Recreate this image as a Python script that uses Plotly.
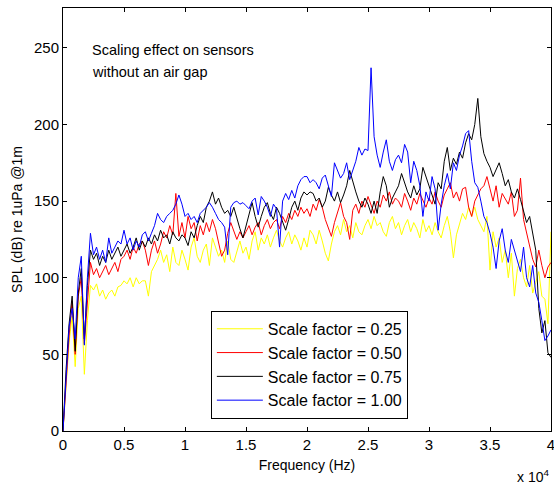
import plotly.graph_objects as go

freq_step_hz = 250
freq = [i * freq_step_hz for i in range(161)]

spl_025 = [
    0, 30, 58, 75, 42, 80, 88, 37, 72, 95,
    92, 96, 88, 92, 86, 90, 92, 88, 94, 95,
    98, 96, 100, 94, 100, 96, 98, 98, 88, 104,
    108, 112, 118, 110, 115, 104, 120, 110, 108, 118,
    112, 105, 120, 126, 114, 110, 118, 122, 108, 126,
    120, 114, 118, 110, 124, 112, 110, 118, 124, 116,
    120, 112, 124, 130, 118, 126, 122, 128, 120, 126,
    131, 124, 120, 126, 130, 122, 128, 124, 118, 126,
    120, 131, 128, 122, 131, 124, 116, 111, 122, 130,
    134, 128, 138, 130, 134, 126, 136, 130, 128, 134,
    138, 132, 140, 134, 136, 130, 127, 136, 140, 132,
    136, 128, 134, 138, 130, 136, 132, 126, 138, 130,
    134, 128, 136, 130, 126, 134, 140, 130, 113, 128,
    136, 142, 138, 146, 140, 146, 138, 134, 130, 140,
    105, 130, 120, 126, 110, 118, 100, 116, 88, 106,
    112, 100, 94, 108, 90, 97, 104, 88, 86, 70,
    130,
]

spl_050 = [
    0, 35, 62, 85, 50, 88, 100, 57, 87, 110,
    102, 106, 100, 104, 108, 102, 106, 110, 104, 112,
    114, 118, 112, 120, 116, 122, 124, 118, 108, 118,
    124, 116, 122, 130, 126, 134, 128, 155, 127, 136,
    126, 140, 132, 136, 124, 134, 128, 136, 130, 138,
    132, 124, 114, 118, 129, 136, 130, 125, 130, 126,
    130, 134, 128, 133, 136, 128, 134, 138, 132, 136,
    138, 132, 140, 136, 142, 138, 144, 140, 146, 142,
    145, 140, 148, 144, 151, 146, 138, 132, 127, 136,
    142, 149, 140, 136, 125, 144, 148, 142, 150, 146,
    153, 148, 142, 150, 146, 154, 150, 156, 148, 152,
    150, 146, 155, 150, 144, 152, 148, 155, 150, 146,
    152, 148, 156, 150, 146, 154, 158, 162, 152, 156,
    150, 158, 159, 146, 140, 150, 154, 158, 160, 166,
    158, 150, 160, 146, 155, 151, 148, 156, 140, 144,
    165, 138, 130, 122, 112, 107, 118, 108, 100, 107,
    110,
]

spl_075 = [
    0, 40, 70, 88, 52, 90, 106, 60, 95, 118,
    112, 116, 108, 114, 110, 118, 112, 116, 120, 114,
    118, 122, 116, 120, 126, 118, 124, 120, 126, 122,
    128, 124, 131, 126, 128, 122, 130, 126, 124, 128,
    126, 121, 130, 126, 134, 140, 136, 146, 150, 156,
    148, 152, 146, 142, 144, 140, 146, 138, 132, 126,
    134, 142, 149, 140, 133, 140, 146, 149, 142, 138,
    146, 142, 136, 131, 138, 146, 150, 144, 152, 156,
    154, 156, 155, 150, 152, 146, 150, 159, 154, 150,
    156, 149, 154, 160, 170, 162, 156, 150, 146, 152,
    148, 142, 150, 142, 156, 166, 160, 146, 152, 156,
    160, 168, 162, 156, 152, 160, 154, 158, 172, 166,
    160, 153, 148, 162, 158, 176, 185, 170, 178, 174,
    182, 178, 188, 194, 190, 200, 217, 192, 181, 176,
    172, 166, 170, 175, 168, 160, 164, 156, 152, 158,
    151, 144, 136, 140, 128, 118, 80, 64, 72, 51,
    48,
]

spl_100 = [
    0, 35, 68, 80, 60, 100, 114, 56, 100, 129,
    115, 120, 112, 118, 110, 126, 116, 120, 124, 122,
    131, 122, 126, 118, 124, 120, 128, 130, 124, 129,
    134, 142, 138, 136, 140, 142, 144, 148, 154, 148,
    140, 142, 138, 140, 136, 142, 144, 146, 149, 146,
    142, 138, 136, 133, 115, 146, 149, 150, 148, 149,
    147, 145, 150, 152, 141, 153, 150, 146, 140, 148,
    145, 120, 150, 155, 151, 157, 152, 160, 164, 166,
    166, 162, 164, 162, 158, 165, 167, 160, 153, 175,
    170, 165, 168, 175, 164, 170, 176, 185, 180, 184,
    183, 237, 192, 180, 172, 182, 190, 176, 170, 177,
    180, 175, 187, 182, 162, 176, 170, 160, 140, 156,
    150, 166, 158, 131, 148, 160, 168, 158, 175, 170,
    180, 186, 194, 196, 176, 162, 159, 150, 140, 136,
    129, 120, 106, 124, 132, 118, 110, 125, 118, 112,
    104, 120, 100, 94, 108, 90, 84, 72, 59, 62,
    66,
]

series_names = ["Scale factor = 0.25", "Scale factor = 0.50",
                "Scale factor = 0.75", "Scale factor = 1.00"]
series_values = [spl_025, spl_050, spl_075, spl_100]
series_colors = ["#ffff00", "#ff0000", "#000000", "#0000ff"]

x_tick_vals = [0, 5000, 10000, 15000, 20000, 25000, 30000, 35000, 40000]
x_tick_text = ["0", "0.5", "1", "1.5", "2", "2.5", "3", "3.5", "4"]
y_tick_vals = [0, 50, 100, 150, 200, 250]

font_family = "Arial, Liberation Sans, sans-serif"

fig = go.Figure()
for name, vals, col in zip(series_names, series_values, series_colors):
    fig.add_trace(go.Scatter(x=freq, y=vals, mode="lines", name=name,
                             line=dict(color=col, width=1)))

axis_common = dict(
    showgrid=False, zeroline=False, showline=True, linecolor="black",
    linewidth=1, mirror="ticks", ticks="inside", ticklen=4,
    tickcolor="black", ticklabeloverflow="allow", automargin=False,
    tickfont=dict(family=font_family, size=15, color="black"),
)

fig.update_layout(
    width=554, height=487,
    margin=dict(l=63, r=3, t=8, b=56),
    paper_bgcolor="white", plot_bgcolor="white",
    font=dict(family=font_family, color="black"),
    xaxis=dict(range=[0, 40000], tickvals=x_tick_vals, ticktext=x_tick_text,
               title=dict(text="Frequency (Hz)", font=dict(size=14), standoff=8),
               **axis_common),
    yaxis=dict(range=[0, 276], tickvals=y_tick_vals,
               title=dict(text="SPL (dB) re 1uPa @1m", font=dict(size=14), standoff=8),
               **axis_common),
    legend=dict(x=0.303, y=0.284, xanchor="left", yanchor="top",
                bgcolor="white", bordercolor="black", borderwidth=1,
                itemwidth=46,
                font=dict(family=font_family, size=16, color="black")),
    showlegend=True,
)

fig.add_annotation(text="Scaling effect on sensors",
                   xref="paper", yref="paper", x=0.056, y=(431 - 50) / 423,
                   xanchor="left", yanchor="middle", align="left", showarrow=False,
                   font=dict(family=font_family, size=14.5, color="black"))
fig.add_annotation(text="without an air gap",
                   xref="paper", yref="paper", x=0.056, y=(431 - 72) / 423,
                   xanchor="left", yanchor="middle", align="left", showarrow=False,
                   font=dict(family=font_family, size=14.5, color="black"))

fig.add_annotation(text="x 10<sup>4</sup>", xref="paper", yref="paper",
                   x=1.0, y=-(487 - 431) / 423, xanchor="right", yanchor="bottom",
                   showarrow=False,
                   font=dict(family=font_family, size=14, color="black"))

fig.write_html("out.html")
